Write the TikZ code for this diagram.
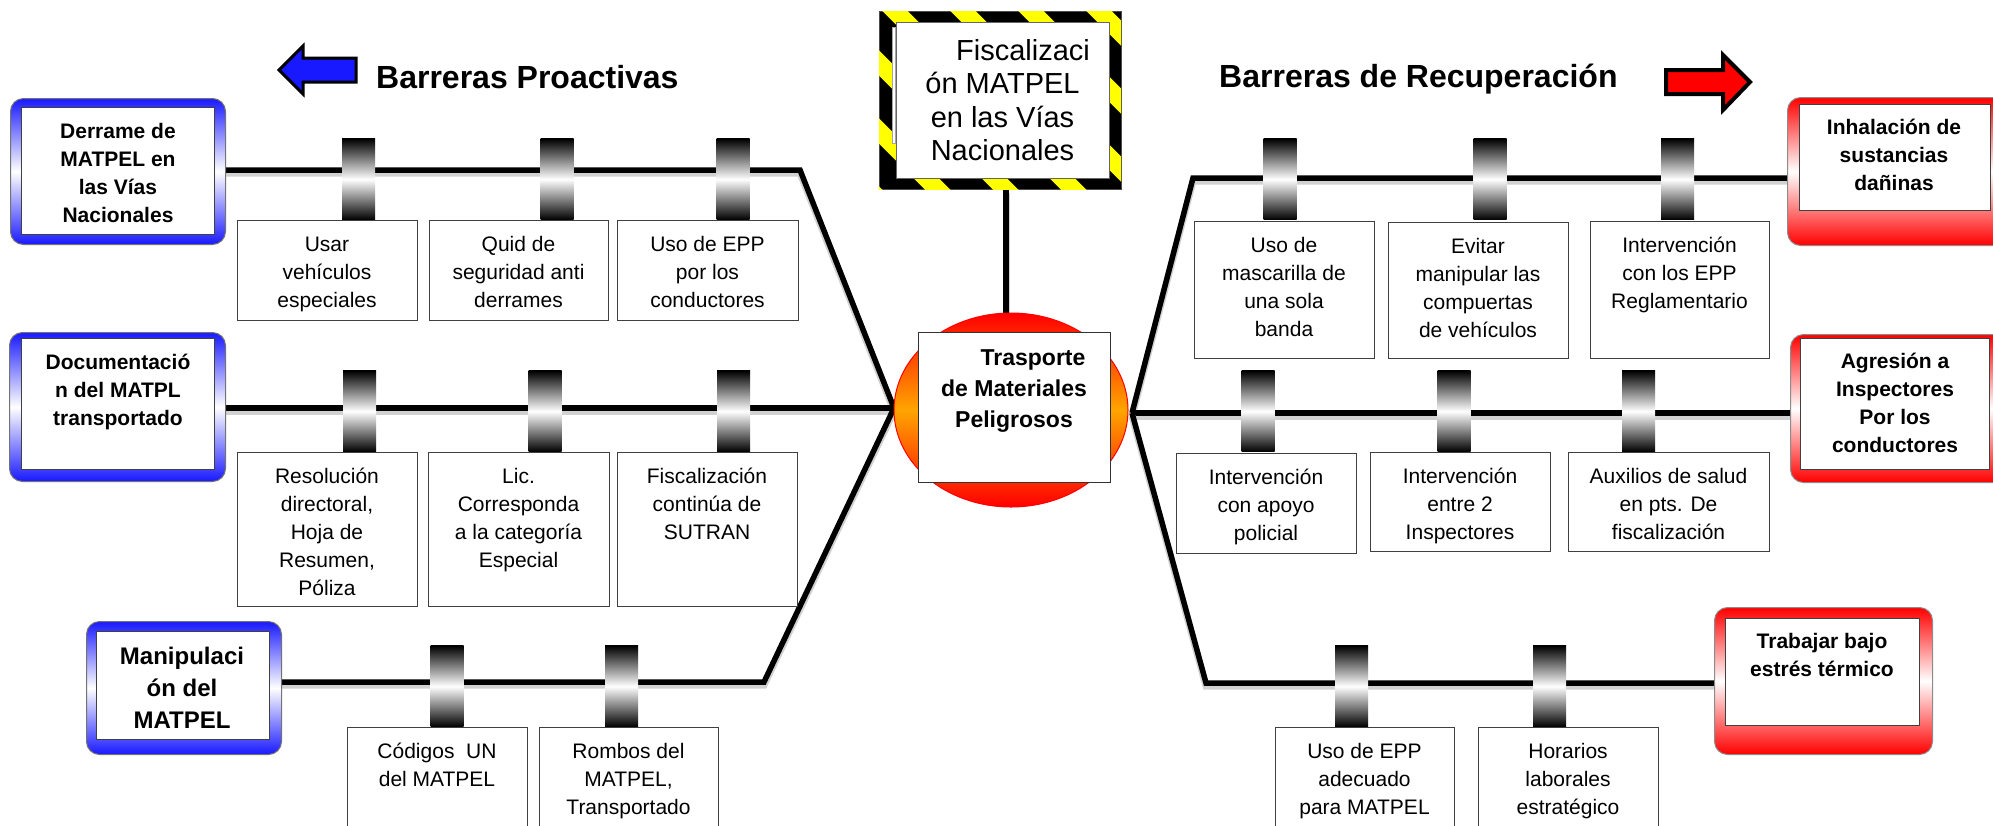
\documentclass[tikz,border=0pt]{standalone}
\usepackage{fontspec}
\setmainfont{Liberation Sans}
\usetikzlibrary{shapes.geometric}
\definecolor{bblue}{RGB}{25,25,255}
\definecolor{rred}{RGB}{255,0,0}
\definecolor{hzy}{RGB}{255,255,0}
\definecolor{orng}{RGB}{255,165,0}
\pgfdeclarelayer{bg}
\pgfsetlayers{bg,main}
\newcommand{\firstln}{\rule{0pt}{20pt}}
\newcommand{\rowbox}[6]{%
  \node[tbox, minimum width=#4pt, minimum height=#5pt] (#1) at (#2,#3) {};
  \node[rtext] (#1t) at ({#2+#4/2},{#3+11}) {\firstln #6};}
\newcommand{\barrel}[3]{\node[barrierc] (#1) at (#2,#3) {};}
\begin{document}
\begin{tikzpicture}[x=1pt,y=-1pt,
  wire/.style={draw=black, line width=5.5pt, line join=miter,
    preaction={draw=black!18, line width=7pt, transform canvas={yshift=-3pt}}},
  frameB/.style={draw=black!55, line width=1pt, rounded corners=13pt,
    top color=bblue, bottom color=bblue, middle color=white, inner sep=0pt, anchor=north west},
  frameR/.style={draw=black!45, line width=1pt, rounded corners=13pt,
    top color=rred, bottom color=rred, middle color=white, inner sep=0pt, anchor=north west},
  inbox/.style={draw=black!75, line width=1.2pt, fill=white, inner sep=0pt, anchor=north west},
  tbox/.style={draw=black!75, line width=1.2pt, fill=white, inner sep=0pt, anchor=north west},
  barrierc/.style={minimum width=33pt, minimum height=81pt, inner sep=0pt,
    top color=black, bottom color=black, middle color=white, anchor=south},
  rtext/.style={font=\fontsize{21}{28}\selectfont, align=center, inner sep=0pt, anchor=north},
  btext/.style={font=\bfseries\fontsize{21}{28}\selectfont, align=center, inner sep=0pt, anchor=north},
  title/.style={font=\bfseries\fontsize{32}{38}\selectfont, inner sep=0pt, anchor=base west}
]
\useasboundingbox (0,0) rectangle (1993,825);

% titles and arrows
\node[title] (tp) at (376,88) {Barreras Proactivas};
\node[title] (tr) at (1219,87) {Barreras de Recuperación};
\draw[line width=3pt, fill=bblue, line join=miter]
  (279,70) -- (303,46) -- (303,58) -- (356,58) -- (356,82) -- (303,82) -- (303,94) -- cycle;
\draw[line width=4pt, fill=rred, line join=miter]
  (1750,82) -- (1723,55) -- (1723,70) -- (1666,70) -- (1666,94) -- (1723,94) -- (1723,110) -- cycle;

% left frames
\node[frameB, minimum width=215pt, minimum height=146pt] (derF) at (10,98) {};
\node[inbox, minimum width=193pt, minimum height=127pt] (derB) at (21,107) {};
\node[btext] (derT) at (118,118) {\firstln Derrame de\\MATPEL en\\las Vías\\Nacionales};

\node[frameB, minimum width=216pt, minimum height=149pt] (docF) at (9,332) {};
\node[inbox, minimum width=193pt, minimum height=131pt] (docB) at (21,338) {};
\node[btext] (docT) at (118,349) {\firstln Documentació\\n del MATPL\\transportado};

\node[frameB, minimum width=195pt, minimum height=133pt] (manF) at (86,621) {};
\node[inbox, minimum width=173pt, minimum height=108pt] (manB) at (96,631) {};
\node[btext, font=\bfseries\fontsize{24}{32}\selectfont] (manT) at (182,641) {\rule{0pt}{23pt}Manipulaci\\ón del\\MATPEL};

% right frames
\node[frameR, minimum width=230pt, minimum height=148pt] (inhF) at (1787,97) {};
\node[inbox, minimum width=191pt, minimum height=106pt] (inhB) at (1799,104) {};
\node[btext] (inhT) at (1894,114) {\firstln Inhalación de\\sustancias\\dañinas};

\node[frameR, minimum width=230pt, minimum height=148pt] (agrF) at (1790,334) {};
\node[inbox, minimum width=189pt, minimum height=131pt] (agrB) at (1800,338) {};
\node[btext] (agrT) at (1895,348) {\firstln Agresión a\\Inspectores\\Por los\\conductores};

\node[frameR, minimum width=218pt, minimum height=147pt] (traF) at (1714,607) {};
\node[inbox, minimum width=194pt, minimum height=107pt] (traB) at (1725,618) {};
\node[btext] (traT) at (1822,628) {\firstln Trabajar bajo\\estrés térmico};

% hazard sign
\node[fill=black, draw=black!70, line width=0.8pt, inner sep=0pt, anchor=north west,
  minimum width=242pt, minimum height=178pt] (hazF) at (879,11) {};
\begin{scope}
  \clip (879,11) rectangle (1121,189);
  \foreach \k in {-4,...,4}
    \draw[hzy, line width=18pt] ({900+68*\k-300},-284) -- ({900+68*\k+300},316);
\end{scope}
\node[inbox, minimum width=213pt, minimum height=156pt, draw=black!60, line width=0.8pt] (hazB) at (896,22) {};
\draw[black!35, fill=white, line width=0.6pt] (892.5,27) rectangle (895.5,143);
\node[rtext, font=\fontsize{29}{33.5}\selectfont] (hazT) at (1002.5,33)
  {\rule{0pt}{27pt}\hspace*{41pt}Fiscalizaci\\ón MATPEL\\en las Vías\\Nacionales};

% hub
\node[ellipse, minimum width=234pt, minimum height=194pt, draw=rred, line width=1pt,
  top color=rred, bottom color=rred, middle color=orng, inner sep=0pt] (hub) at (1011,410) {};
\node[inbox, minimum width=192pt, minimum height=150pt, draw=black!80] (hubB) at (918,332) {};
\node[btext, font=\bfseries\fontsize{23}{31}\selectfont] (hubT) at (1014,343)
  {\rule{0pt}{22pt}\hspace*{38pt}Trasporte\\de Materiales\\Peligrosos};

% barrier boxes, left
\rowbox{b11}{237}{220}{180}{100}{Usar\\vehículos\\especiales}
\rowbox{b12}{429}{220}{179}{100}{Quid de\\seguridad anti\\derrames}
\rowbox{b13}{617}{220}{181}{100}{Uso de EPP\\por los\\conductores}
\rowbox{b21}{237}{452}{180}{154}{Resolución\\directoral,\\Hoja de\\Resumen,\\Póliza}
\rowbox{b22}{428}{452}{181}{154}{Lic.\\Corresponda\\a la categoría\\Especial}
\rowbox{b23}{617}{452}{180}{154}{Fiscalización\\continúa de\\SUTRAN}
\rowbox{b31}{347}{727}{180}{110}{Códigos\ \ UN\\del MATPEL}
\rowbox{b32}{539}{727}{179}{110}{Rombos del\\MATPEL,\\Transportado}
% barrier boxes, right
\rowbox{r11}{1194}{221}{180}{137}{Uso de\\mascarilla de\\una sola\\banda}
\rowbox{r12}{1388}{222}{180}{136}{Evitar\\manipular las\\compuertas\\de vehículos}
\rowbox{r13}{1590}{221}{179}{137}{Intervención\\con los EPP\\Reglamentario}
\rowbox{r21}{1176}{453}{180}{100}{Intervención\\con apoyo\\policial}
\rowbox{r22}{1370}{452}{180}{99}{Intervención\\entre 2\\Inspectores}
\rowbox{r23}{1568}{452}{201}{99}{Auxilios de salud\\en pts. De\\fiscalización}
\rowbox{r31}{1275}{727}{179}{110}{Uso de EPP\\adecuado\\para MATPEL}
\rowbox{r32}{1478}{727}{180}{110}{Horarios\\laborales\\estratégico}

% barrels
\barrel{k11}{358.5}{220} \barrel{k12}{557}{220} \barrel{k13}{733}{220}
\barrel{k21}{359.5}{452} \barrel{k22}{545}{452} \barrel{k23}{733.5}{452}
\barrel{k31}{447}{727} \barrel{k32}{621.5}{727}
\barrel{q11}{1280}{220} \barrel{q12}{1490}{220} \barrel{q13}{1677.5}{220}
\barrel{q21}{1258}{452} \barrel{q22}{1454}{452} \barrel{q23}{1638.5}{452}
\barrel{q31}{1351.5}{727} \barrel{q32}{1549.5}{727}

% connectors
\coordinate (JL) at (894,408);
\coordinate (JR) at (1132,413);
\coordinate (L1) at (800,170);
\coordinate (L3) at (764,682);
\coordinate (R1) at (1193,178);
\coordinate (R3) at (1206,683);
\coordinate (stemX) at (1006,0);
\begin{pgfonlayer}{bg}
\fill[white] (0,0) rectangle (1993,825);
\draw[wire] (derF.east |- L1) -- (L1) -- (JL);
\draw[wire] (docF.east |- JL) -- (JL);
\draw[wire] (manF.east |- L3) -- (L3) -- (JL);
\draw[wire] (inhF.west |- R1) -- (R1) -- (JR);
\draw[wire] (agrF.west |- JR) -- (JR);
\draw[wire] (traF.west |- R3) -- (R3) -- (JR);
\draw[wire] (hazF.south -| stemX) -- (hub.north -| stemX);
\end{pgfonlayer}
\end{tikzpicture}
\end{document}
